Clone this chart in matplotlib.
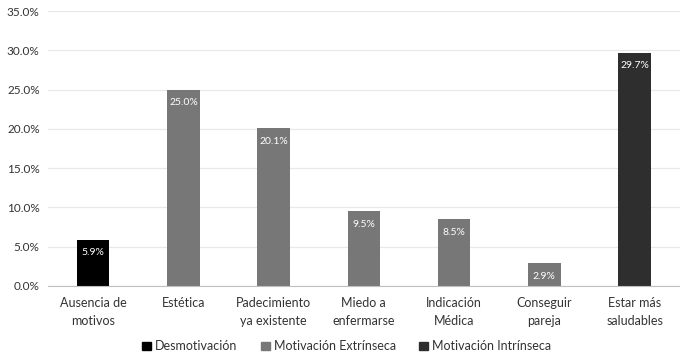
import matplotlib
matplotlib.use("Agg")
import matplotlib.pyplot as plt
from matplotlib.patches import Patch
from matplotlib.ticker import FuncFormatter, MultipleLocator

categories = ["Ausencia de\nmotivos", "Estética", "Padecimiento\nya existente",
              "Miedo a\nenfermarse", "Indicación\nMédica", "Conseguir\npareja",
              "Estar más\nsaludables"]
values = [5.9, 25.0, 20.1, 9.5, 8.5, 2.9, 29.7]
groups = ["Desmotivación", "Motivación Extrínseca", "Motivación Extrínseca",
          "Motivación Extrínseca", "Motivación Extrínseca", "Motivación Extrínseca",
          "Motivación Intrínseca"]
group_names = ["Desmotivación", "Motivación Extrínseca", "Motivación Intrínseca"]
group_colors = {"Desmotivación": "#000000", "Motivación Extrínseca": "#777777",
                "Motivación Intrínseca": "#2e2e2e"}

plt.rcParams['font.family'] = ['Lato', 'DejaVu Sans']

fig = plt.figure(figsize=(6.8, 3.57), dpi=100)
ax = fig.add_axes([0.0706, 0.199, 0.929, 0.770])

x = list(range(len(categories)))
colors = [group_colors[g] for g in groups]
bars = ax.bar(x, values, width=0.36, color=colors, zorder=3)

for b, v in zip(bars, values):
    ax.text(b.get_x() + b.get_width() / 2, v - 1.1, f"{v:.1f}%",
            ha="center", va="top", color="white", fontsize=7.5, zorder=4)

ax.set_xlim(-0.5, len(categories) - 0.5)
ax.set_ylim(0, 35)
ax.yaxis.set_major_locator(MultipleLocator(5))
ax.yaxis.set_major_formatter(FuncFormatter(lambda v, p: f"{v:.1f}%"))
ax.grid(axis="y", color="#e8e8e8", linewidth=0.9, zorder=0)
ax.set_xticks(x)
ax.set_xticklabels(categories, fontsize=9, color="#333333", linespacing=1.55)
ax.tick_params(axis="y", labelsize=8.5, colors="#333333", length=0, pad=6)
ax.tick_params(axis="x", length=0, pad=8)
for s in ["top", "right", "left"]:
    ax.spines[s].set_visible(False)
ax.spines["bottom"].set_color("#bfbfbf")
ax.spines["bottom"].set_zorder(4)

handles = [Patch(color=group_colors[g], label=g) for g in group_names]
fig.legend(handles=handles, loc="center", bbox_to_anchor=(0.51, 0.03), ncol=3,
           frameon=False, fontsize=9, handlelength=0.7, handleheight=0.7,
           handletextpad=0.3, columnspacing=1.9, labelcolor="#333333")

fig.savefig("out.png", dpi=100)
